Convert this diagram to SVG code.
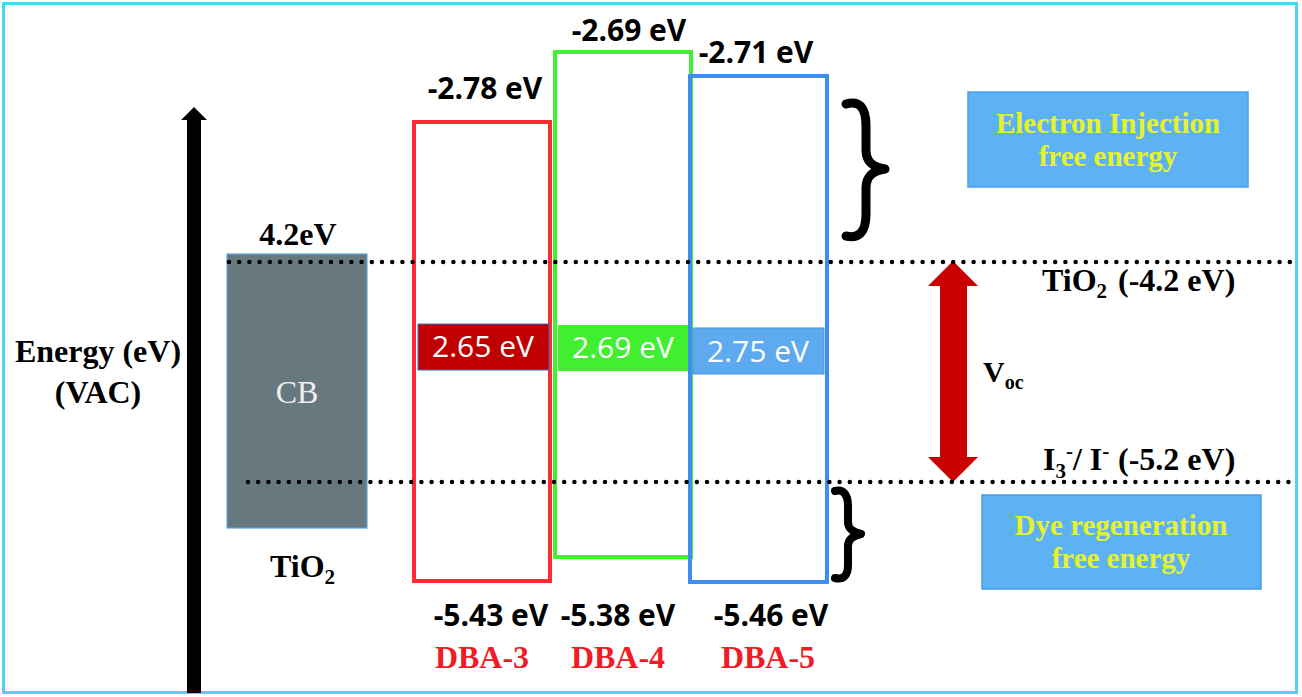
<svg xmlns="http://www.w3.org/2000/svg" width="1302" height="697" viewBox="0 0 1302 697">
<defs>
<style>
.tb{font-family:"Liberation Serif","Times New Roman",serif;font-weight:bold;}
.tr{font-family:"Liberation Serif","Times New Roman",serif;}
.os{font-family:"Open Sans","Noto Sans",sans-serif;}
.osb{font-family:"Open Sans","Noto Sans",sans-serif;font-weight:bold;}
.lvl{fill:none;stroke-width:4;}
.gapt{fill:#ffffff;font-size:30px;text-anchor:middle;}
.evl{fill:#000;font-size:30px;text-anchor:middle;}
.dba{fill:#ee1c24;font-size:32px;text-anchor:middle;}
.info{fill:#5cb2f5;stroke:#4a9ee6;stroke-width:1.5;}
.infot{fill:#e6f22a;font-size:29px;text-anchor:middle;}
.dots{stroke:#000;stroke-width:4.5;stroke-linecap:round;stroke-dasharray:0 10.2;fill:none;}
.brace{fill:none;stroke:#000;stroke-linecap:round;stroke-linejoin:round;}
</style>
</defs>
<rect x="0" y="0" width="1302" height="697" fill="#ffffff"/>
<rect id="frame" x="3.5" y="3.5" width="1293" height="689" fill="#ffffff" stroke="#4fd3f2" stroke-width="3"/>

<g id="axis">
<polygon points="187,693 187,120 181,120 194,107 207,120 201,120 201,693" fill="#000"/>
<text class="tb" x="98" y="362" font-size="32" text-anchor="middle">Energy (eV)</text>
<text class="tb" x="98" y="403" font-size="32" text-anchor="middle">(VAC)</text>
</g>

<g id="tio2">
<rect x="227" y="254" width="140" height="274" fill="#68787f" stroke="#5aa6e8" stroke-width="1.2"/>
<text class="tr" x="297" y="403" font-size="32" text-anchor="middle" fill="#eeeeee">CB</text>
<text class="tb" x="298" y="245" font-size="32" text-anchor="middle">4.2eV</text>
<text class="tb" x="270" y="577" font-size="32">TiO<tspan font-size="21" dy="7">2</tspan></text>
</g>

<g id="dba4">
<rect class="lvl" x="555" y="52" width="136" height="505" stroke="#44ee33"/>
<rect x="558" y="325" width="130" height="46" fill="#40f030"/>
<text class="os gapt" x="623" y="358">2.69 eV</text>
<text class="osb evl" x="629" y="41">-2.69 eV</text>
<text class="osb evl" x="618" y="626">-5.38 eV</text>
<text class="tb dba" x="618" y="668">DBA-4</text>
</g>

<g id="dba3">
<rect class="lvl" x="414" y="122" width="136" height="459" stroke="#ff2a35"/>
<rect x="418" y="324" width="131" height="46" fill="#c00000" stroke="#3a6fc0" stroke-width="1"/>
<text class="os gapt" x="483" y="357">2.65 eV</text>
<text class="osb evl" x="485" y="99">-2.78 eV</text>
<text class="osb evl" x="491" y="626">-5.43 eV</text>
<text class="tb dba" x="482" y="668">DBA-3</text>
</g>

<g id="dba5">
<rect class="lvl" x="690" y="76" width="137" height="506" stroke="#3d8ef0"/>
<rect x="693" y="328" width="131" height="46" fill="#5eaaf0" stroke="#4a90e0" stroke-width="1"/>
<text class="os gapt" x="758" y="362">2.75 eV</text>
<text class="osb evl" x="756" y="63">-2.71 eV</text>
<text class="osb evl" x="771" y="626">-5.46 eV</text>
<text class="tb dba" x="768" y="668">DBA-5</text>
</g>

<g id="voc-arrow">
<polygon points="953,261 978,286 967,286 967,457 978,457 953,482 928,457 940,457 940,286 928,286" fill="#c80000"/>
<text class="tb" x="983" y="382" font-size="30">V<tspan font-size="20" dy="7">oc</tspan></text>
</g>

<g id="connectors">
<line class="dots" x1="229" y1="262" x2="1293" y2="262"/>
<line class="dots" x1="248" y1="482" x2="1293" y2="482"/>
</g>

<g id="levels">
<text class="tb" x="1042" y="291" font-size="32">TiO<tspan font-size="21" dy="7">2</tspan><tspan x="1118" dy="-7">(-4.2 eV)</tspan></text>
<text class="tb" x="1043" y="470" font-size="32">I<tspan font-size="21" dy="8">3</tspan><tspan font-size="21" dy="-20">-</tspan><tspan dy="12">/ I</tspan><tspan font-size="21" dy="-12">-</tspan><tspan x="1118" dy="12">(-5.2 eV)</tspan></text>
</g>

<g id="brace-injection">
<path class="brace" stroke-width="9" d="M846,104 C859,100 866,107 866,126 L866,150 C866,162 873,167 885,169 C873,171 866,176 866,188 L866,214 C866,232 859,239 846,236"/>
</g>
<g id="brace-regeneration">
<path class="brace" stroke-width="8" d="M835,491 C843,489 848,494 848,506 L848,522 C848,529 853,532 861,534 C853,536 848,539 848,546 L848,565 C848,576 843,580 835,578"/>
</g>

<g id="box-injection">
<rect class="info" x="968" y="92" width="280" height="95"/>
<text class="tb infot" x="1108" y="133">Electron Injection</text>
<text class="tb infot" x="1108" y="166">free energy</text>
</g>

<g id="box-regeneration">
<rect class="info" x="982" y="495" width="279" height="94"/>
<text class="tb infot" x="1121" y="535">Dye regeneration</text>
<text class="tb infot" x="1121" y="568">free energy</text>
</g>
</svg>
